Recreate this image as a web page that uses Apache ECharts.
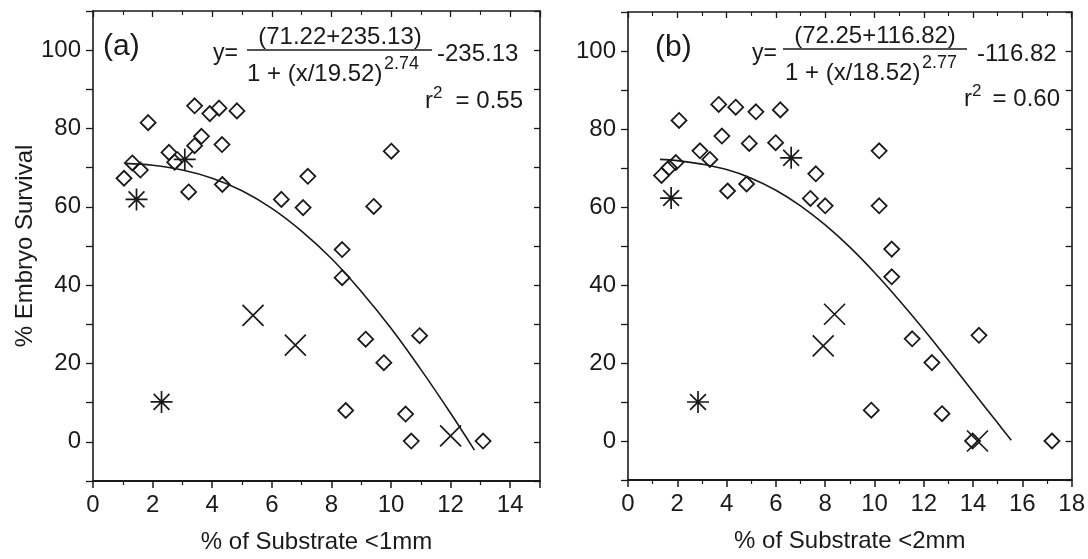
<!DOCTYPE html>
<html>
<head>
<meta charset="utf-8">
<script src="https://cdn.jsdelivr.net/npm/echarts@6/dist/echarts.min.js"></script>
<style>
html,body{margin:0;padding:0;background:#fff;}
#chart{width:1088px;height:559px;}
</style>
</head>
<body>
<div id="chart"></div>
<script>
// ---------- Panel (a): % of Substrate <1mm ----------
var aDiamondX = [1.85,3.41,3.92,4.23,4.83,3.64,3.41,4.33,2.55,2.74,1.32,1.59,1.04,4.34,3.21,10.01,7.21,6.32,7.05,9.42,8.36,8.36,9.15,10.96,9.76,8.48,10.49,10.68,13.09];
var aDiamondY = [81.5,85.8,83.8,85.2,84.5,78.0,75.6,75.9,73.9,71.4,71.2,69.4,67.3,65.7,63.8,74.2,67.8,61.9,59.8,60.1,49.1,41.9,26.2,27.1,20.2,8.0,7.1,0.2,0.2];
var aStarX = [3.08,1.46,2.30];
var aStarY = [72.1,61.9,10.2];
var aCrossX = [5.37,6.79,12.0];
var aCrossY = [32.3,24.7,1.5];
var aFitX = [1.1,2,3,4,5,6,7,8,9,10,11,12,12.8];
var aFitY = [71.1,70.6,69.4,67.3,64.1,59.6,53.8,46.8,38.4,29.0,18.5,7.3,-2.1];

// ---------- Panel (b): % of Substrate <2mm ----------
var bDiamondX = [2.07,3.68,4.37,5.19,6.18,3.81,4.92,5.99,10.19,7.62,2.92,3.32,1.94,1.67,1.36,4.04,4.81,7.40,8.00,10.19,10.70,10.70,11.53,14.24,12.33,9.87,12.74,13.98,17.2];
var bDiamondY = [82.2,86.3,85.6,84.4,84.9,78.2,76.3,76.5,74.4,68.5,74.4,72.2,71.4,70.1,68.1,64.1,65.9,62.2,60.3,60.3,49.2,42.1,26.2,27.1,20.1,7.9,7.0,0.0,0.0];
var bStarX = [6.62,1.75,2.84];
var bStarY = [72.6,62.3,10.0];
var bCrossX = [8.38,7.92,14.18];
var bCrossY = [32.5,24.4,0.0];
var bFitX = [1.3,2,3,4,5,6,7,8,9,10,11,12,13,14,15,15.55];
var bFitY = [72.2,71.9,71.0,69.6,67.4,64.3,60.3,55.4,49.7,43.2,36.1,28.6,20.7,12.6,4.6,0.2];

// ---------- Axes / text ----------
var yMin = -10, yMax = 110, yStep = 10;
var yLabelValues = [0,20,40,60,80,100];
var aXMax = 15, bXMax = 18;
var aXLabelValues = [0,2,4,6,8,10,12,14];
var bXLabelValues = [0,2,4,6,8,10,12,14,16,18];
var yTitle = '% Embryo Survival';
var aXTitle = '% of Substrate <1mm';
var bXTitle = '% of Substrate <2mm';

function pairs(xs, ys){ return xs.map(function(x,i){ return [x, ys[i]]; }); }

var FONT = "'Liberation Sans', Arial, sans-serif";
var INK = '#1a1a1a';

function mainX(idx, max, title, labels){
  return {
    type:'value', gridIndex:idx, min:0, max:max, interval:2,
    position:'bottom',
    name:title, nameLocation:'middle', nameGap:49,
    nameTextStyle:{fontFamily:FONT, fontSize:24, color:INK},
    axisLine:{show:true, onZero:false, lineStyle:{color:INK, width:2}},
    axisTick:{show:true, inside:false, length:7, lineStyle:{color:INK, width:1.5}},
    minorTick:{show:true, splitNumber:2, length:4, lineStyle:{color:INK, width:1.2}},
    axisLabel:{fontFamily:FONT, fontSize:24, color:INK, margin:12, showMaxLabel:true,
      formatter:function(v){ return labels.indexOf(v) >= 0 ? String(v) : ''; }},
    splitLine:{show:false}
  };
}
function topX(idx, max){
  return {
    type:'value', gridIndex:idx, min:0, max:max, interval:2, position:'top',
    axisLine:{show:true, onZero:false, lineStyle:{color:INK, width:1.6}},
    axisTick:{show:true, inside:true, length:6, lineStyle:{color:INK, width:1.3}},
    minorTick:{show:true, splitNumber:2, length:4, lineStyle:{color:INK, width:1.1}},
    axisLabel:{show:false}, splitLine:{show:false}
  };
}
function mainY(idx, withName){
  var o = {
    type:'value', gridIndex:idx, min:yMin, max:yMax, interval:yStep, position:'left',
    axisLine:{show:true, onZero:false, lineStyle:{color:INK, width:1.6}},
    axisTick:{show:true, inside:false, length:7, lineStyle:{color:INK, width:1.3}},
    axisLabel:{fontFamily:FONT, fontSize:24, color:INK, margin:12,
      formatter:function(v){ return yLabelValues.indexOf(v) >= 0 ? String(v) : ''; }},
    splitLine:{show:false}
  };
  if (withName){
    o.name = yTitle; o.nameLocation = 'middle'; o.nameGap = 56;
    o.nameTextStyle = {fontFamily:FONT, fontSize:24, color:INK};
  }
  return o;
}
function rightY(idx){
  return {
    type:'value', gridIndex:idx, min:yMin, max:yMax, interval:yStep, position:'right',
    axisLine:{show:true, onZero:false, lineStyle:{color:INK, width:1.6}},
    axisTick:{show:true, inside:true, length:6, lineStyle:{color:INK, width:1.3}},
    axisLabel:{show:false}, splitLine:{show:false}
  };
}

var DIAMOND = 'path://M0,-1L1,0L0,1L-1,0Z';
var STAR = 'path://M0,-1L0,1M-1,0L1,0M-0.72,-0.72L0.72,0.72M-0.72,0.72L0.72,-0.72';
var CROSS = 'path://M-1,-1L1,1M-1,1L1,-1';

function scatter(idx, data, symbol, size, bw){
  return {
    type:'scatter', xAxisIndex:idx*2, yAxisIndex:idx*2, data:data,
    symbol:symbol, symbolSize:size, silent:true, z:3,
    itemStyle:{color:'rgba(255,255,255,0)', borderColor:INK, borderWidth:bw, opacity:1}
  };
}
function fit(idx, data){
  return {
    type:'line', xAxisIndex:idx*2, yAxisIndex:idx*2, data:data,
    showSymbol:false, symbol:'none', smooth:0.4, silent:true, z:2,
    lineStyle:{color:INK, width:1.6}
  };
}

function txt(x, y, text, size, align, valign){
  return {type:'text', x:x, y:y, silent:true, z:10,
    style:{text:text, fontFamily:FONT, fontSize:size, fill:INK,
      align:align||'left', verticalAlign:valign||'middle'}};
}
function bar(x1, x2, y){
  return {type:'line', silent:true, z:10, shape:{x1:x1, y1:y, x2:x2, y2:y},
    style:{stroke:INK, lineWidth:1.5}};
}

var option = {
  backgroundColor:'#fff',
  animation:false,
  grid:[
    {left:93, top:11, width:447, height:472, containLabel:false},
    {left:628, top:12, width:450, height:468, containLabel:false}
  ],
  xAxis:[ mainX(0, aXMax, aXTitle, aXLabelValues), topX(0, aXMax), mainX(1, bXMax, bXTitle, bXLabelValues), topX(1, bXMax) ],
  yAxis:[ mainY(0, true), rightY(0), mainY(1, false), rightY(1) ],
  series:[
    fit(0, pairs(aFitX, aFitY)),
    scatter(0, pairs(aDiamondX, aDiamondY), DIAMOND, 15, 1.8),
    scatter(0, pairs(aStarX, aStarY), STAR, 22, 1.7),
    scatter(0, pairs(aCrossX, aCrossY), CROSS, 21, 1.7),
    fit(1, pairs(bFitX, bFitY)),
    scatter(1, pairs(bDiamondX, bDiamondY), DIAMOND, 15, 1.8),
    scatter(1, pairs(bStarX, bStarY), STAR, 22, 1.7),
    scatter(1, pairs(bCrossX, bCrossY), CROSS, 21, 1.7)
  ],
  graphic:[
    // panel (a) annotations
    txt(103, 47, '(a)', 30),
    txt(213, 54, 'y=', 23),
    txt(340, 37, '(71.22+235.13)', 24, 'center'),
    bar(247, 432, 50),
    txt(247, 74, '1 + (x/19.52)', 24),
    txt(384, 64, '2.74', 18),
    txt(437, 54, '-235.13', 24),
    txt(425, 101, 'r', 24),
    txt(433, 93, '2', 17),
    txt(523, 101, '= 0.55', 24, 'right'),
    // panel (b) annotations
    txt(655, 48, '(b)', 30),
    txt(752, 54, 'y=', 23),
    txt(875, 36, '(72.25+116.82)', 24, 'center'),
    bar(783, 967, 49),
    txt(785, 73, '1 + (x/18.52)', 24),
    txt(922, 63, '2.77', 18),
    txt(977, 54, '-116.82', 24),
    txt(964, 99, 'r', 24),
    txt(972, 91, '2', 17),
    txt(1060, 99, '= 0.60', 24, 'right')
  ]
};

var chart = echarts.init(document.getElementById('chart'), null, {renderer:'canvas'});
chart.setOption(option);
</script>
</body>
</html>
